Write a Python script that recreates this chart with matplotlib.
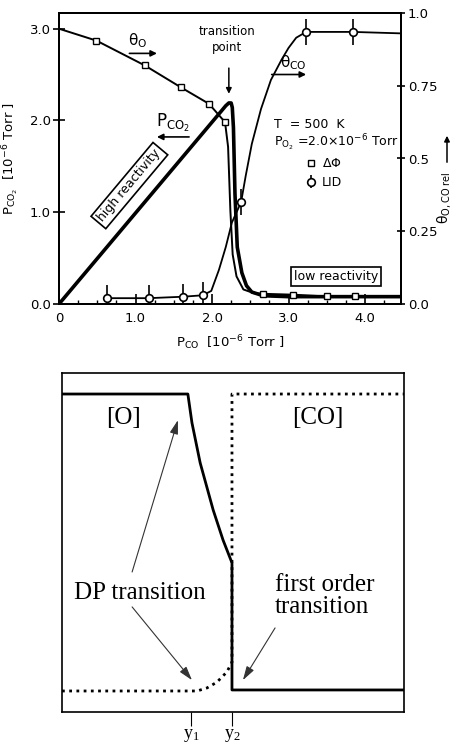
import matplotlib
matplotlib.use("Agg")
import matplotlib.pyplot as plt
from matplotlib.lines import Line2D

plt.rcParams['font.family'] = ['DejaVu Sans']
plt.rcParams['mathtext.default'] = 'regular'

# ---------------- data (top panel) ----------------
# P_CO2 (left axis, 10^-6 Torr) vs P_CO (10^-6 Torr)
pco_for_pco2 = [0.0, 2.12, 2.18, 2.22, 2.25, 2.265, 2.28, 2.30, 2.33, 2.39, 2.45, 2.52, 2.67, 3.0, 4.47]
pco2 = [0.0, 2.10, 2.16, 2.19, 2.19, 2.14, 1.92, 1.20, 0.62, 0.34, 0.20, 0.13, 0.09, 0.08, 0.08]

# theta_O (relative coverage, right axis) from work function change
pco_theta_o = [0.0, 0.49, 1.12, 1.59, 1.96, 2.17, 2.21, 2.24, 2.27, 2.32, 2.41, 2.55, 2.67, 3.06, 3.50, 3.87, 4.47]
theta_o = [0.946, 0.905, 0.82, 0.745, 0.688, 0.625, 0.54, 0.32, 0.17, 0.095, 0.05, 0.037, 0.035, 0.032, 0.026, 0.028, 0.026]
pco_theta_o_pts = [0.49, 1.12, 1.59, 1.96, 2.17, 2.67, 3.06, 3.50, 3.87]
theta_o_pts = [0.905, 0.82, 0.745, 0.688, 0.625, 0.035, 0.032, 0.026, 0.028]

# theta_CO (relative coverage, right axis) from LID
pco_theta_co = [0.63, 1.17, 1.62, 1.88, 1.99, 2.09, 2.18, 2.26, 2.38, 2.44, 2.52, 2.64, 2.77, 2.91, 3.0, 3.1, 3.23, 3.84, 4.47]
theta_co = [0.02, 0.02, 0.025, 0.03, 0.045, 0.117, 0.196, 0.28, 0.35, 0.44, 0.55, 0.67, 0.77, 0.84, 0.88, 0.915, 0.935, 0.935, 0.93]
pco_theta_co_pts = [0.63, 1.17, 1.62, 1.88, 2.38, 3.23, 3.84]
theta_co_pts = [0.02, 0.02, 0.025, 0.03, 0.35, 0.935, 0.935]
theta_co_err = [0.045, 0.045, 0.045, 0.045, 0.045, 0.045, 0.045]

x_ticks = [0, 1, 2, 3, 4]
x_ticklabels = ['0', '1.0', '2.0', '3.0', '4.0']
yl_ticks = [0, 1, 2, 3]
yl_ticklabels = ['0.0', '1.0', '2.0', '3.0']
yr_ticks = [0, 0.25, 0.5, 0.75, 1.0]
yr_ticklabels = ['0.0', '0.25', '0.5', '0.75', '1.0']

# ---------------- data (bottom schematic) ----------------
o_x = [0.0, 0.368, 0.380, 0.404, 0.442, 0.471, 0.497, 0.497, 1.0]
o_y = [0.938, 0.938, 0.853, 0.735, 0.596, 0.507, 0.440, 0.065, 0.065]
co_x = [0.0, 0.395, 0.424, 0.453, 0.482, 0.497, 0.497, 1.0]
co_y = [0.062, 0.062, 0.071, 0.088, 0.118, 0.147, 0.938, 0.938]
y_marks = [0.377, 0.497]
y_mark_labels = ['y$_1$', 'y$_2$']

W, H = 461, 745
fig = plt.figure(figsize=(W / 100, H / 100), dpi=100)

def fx(px):
    return px / W

def fy(py):
    return 1 - py / H

# ---------------- top panel ----------------
ax = fig.add_axes([fx(59), fy(304), (401 - 59) / W, (304 - 13) / H])
axr = ax.twinx()
ax.set_xlim(0, 4.47)
ax.set_ylim(0, 3.17)
axr.set_ylim(0, 1.0)

ax.plot(pco_for_pco2, pco2, color='k', lw=2.6, solid_capstyle='round', zorder=3)
axr.plot(pco_theta_o, theta_o, color='k', lw=1.4, zorder=3)
axr.plot(pco_theta_o_pts, theta_o_pts, ls='none', marker='s', ms=3.8,
         mfc='white', mec='k', mew=1.0, zorder=4)
axr.plot(pco_theta_co, theta_co, color='k', lw=1.3, zorder=3)
eb = axr.errorbar(pco_theta_co_pts, theta_co_pts, yerr=theta_co_err, fmt='o', ms=5.5,
                  mfc='white', mec='k', mew=1.2, ecolor='k', elinewidth=1.2, capsize=0, zorder=5)

ax.set_xticks(x_ticks)
ax.set_xticklabels(x_ticklabels)
ax.set_xticks([0.25 * i for i in range(18) if i % 4 != 0], minor=True)
ax.set_yticks(yl_ticks)
ax.set_yticklabels(yl_ticklabels)
axr.set_yticks(yr_ticks)
axr.set_yticklabels(yr_ticklabels)
ax.tick_params(axis='x', direction='in', length=7, width=1.2, labelsize=9.5, pad=6)
ax.tick_params(axis='x', which='minor', direction='in', length=3, width=1.0)
ax.tick_params(axis='y', direction='inout', length=8, width=1.2, labelsize=9.5, pad=2)
axr.tick_params(axis='y', direction='inout', length=6, width=1.2, labelsize=9.5, pad=2)
for a in (ax, axr):
    for s in a.spines.values():
        s.set_linewidth(1.4)

ax.set_xlabel(r'P$_{CO}$  [10$^{-6}$ Torr ]', fontsize=9.5, labelpad=6)
ax.set_ylabel(r'P$_{CO_2}$  [10$^{-6}$ Torr ]', fontsize=9.5, labelpad=6)

# annotations
ax.text(1.03, 2.87, r'$\theta_O$', fontsize=11, ha='center', va='center')
ax.annotate('', xy=(1.28, 2.73), xytext=(0.92, 2.73),
            arrowprops=dict(arrowstyle='-|>', lw=1.2, color='k', shrinkA=0, shrinkB=0, mutation_scale=9))
ax.text(1.49, 1.97, r'P$_{CO_2}$', fontsize=12, ha='center', va='center')
ax.annotate('', xy=(1.28, 1.82), xytext=(1.70, 1.82),
            arrowprops=dict(arrowstyle='-|>', lw=1.2, color='k', shrinkA=0, shrinkB=0, mutation_scale=9))
ax.text(2.20, 2.88, 'transition\npoint', fontsize=8.5, ha='center', va='center', linespacing=1.3)
ax.annotate('', xy=(2.22, 2.29), xytext=(2.22, 2.57),
            arrowprops=dict(arrowstyle='-|>', lw=1.1, color='k', shrinkA=0, shrinkB=0, mutation_scale=8))
ax.text(3.06, 2.63, r'$\theta_{CO}$', fontsize=11, ha='center', va='center')
ax.annotate('', xy=(3.23, 2.50), xytext=(2.78, 2.50),
            arrowprops=dict(arrowstyle='-|>', lw=1.2, color='k', shrinkA=0, shrinkB=0, mutation_scale=9))
ax.text(2.81, 1.95, 'T  = 500  K', fontsize=9, ha='left', va='center')
ax.text(2.81, 1.76, r'P$_{O_2}$ =2.0$\times$10$^{-6}$ Torr', fontsize=9, ha='left', va='center')

sq = Line2D([], [], ls='none', marker='s', ms=3.8, mfc='white', mec='k', mew=1.0)
leg = axr.legend([sq, eb], [r'$\Delta\Phi$', 'LID'], loc='upper left',
                 bbox_to_anchor=(0.70, 0.525), frameon=False, fontsize=9,
                 handlelength=1.0, handletextpad=0.4, labelspacing=0.45, borderpad=0)

ax.text(0.92, 1.29, 'high reactivity', fontsize=9, rotation=50, ha='center', va='center',
        rotation_mode='anchor',
        bbox=dict(boxstyle='square,pad=0.25', fc='white', ec='k', lw=1.2))
ax.text(3.62, 0.30, 'low reactivity', fontsize=9, ha='center', va='center',
        bbox=dict(boxstyle='square,pad=0.25', fc='white', ec='k', lw=1.2))

# right axis label with arrow
fig.text(fx(444), fy(198), r'$\theta_{O,CO\ rel}$', rotation=90, fontsize=10, ha='center', va='center')
fig.add_artist(matplotlib.patches.FancyArrowPatch((fx(447), fy(165)), (fx(447), fy(133)),
               transform=fig.transFigure, arrowstyle='-|>', mutation_scale=8, lw=1.1, color='k'))

# ---------------- bottom schematic ----------------
serif = ['Liberation Serif', 'DejaVu Serif']
ax2 = fig.add_axes([fx(62), fy(712), (404 - 62) / W, (712 - 373) / H])
ax2.set_xlim(0, 1)
ax2.set_ylim(0, 1)
ax2.plot(o_x, o_y, color='k', lw=2.0, zorder=3)
ax2.plot(co_x, co_y, color='k', lw=2.0, ls=(0, (1, 1.6)), zorder=3)
for s in ax2.spines.values():
    s.set_linewidth(1.2)
ax2.set_yticks([])
ax2.set_xticks(y_marks)
ax2.set_xticklabels(y_mark_labels, family=serif, fontsize=13)
ax2.tick_params(axis='x', direction='out', length=10, width=0.8, pad=1)

ax2.text(0.18, 0.867, '[O]', family=serif, fontsize=18, ha='center', va='center')
ax2.text(0.749, 0.867, '[CO]', family=serif, fontsize=18, ha='center', va='center')
ax2.text(0.228, 0.351, 'DP transition', family=serif, fontsize=18, ha='center', va='center')
ax2.text(0.623, 0.341, 'first order\ntransition', family=serif, fontsize=18, ha='left', va='center',
         linespacing=1.0)
arrow_kw = dict(arrowstyle='-|>,head_length=0.6,head_width=0.18', lw=0.8, color='#333333',
                shrinkA=0, shrinkB=0, mutation_scale=14)
ax2.annotate('', xy=(0.339, 0.861), xytext=(0.205, 0.413), arrowprops=arrow_kw)
ax2.annotate('', xy=(0.380, 0.094), xytext=(0.205, 0.310), arrowprops=arrow_kw)
ax2.annotate('', xy=(0.529, 0.094), xytext=(0.623, 0.248), arrowprops=arrow_kw)

fig.savefig('out.png', dpi=100)
